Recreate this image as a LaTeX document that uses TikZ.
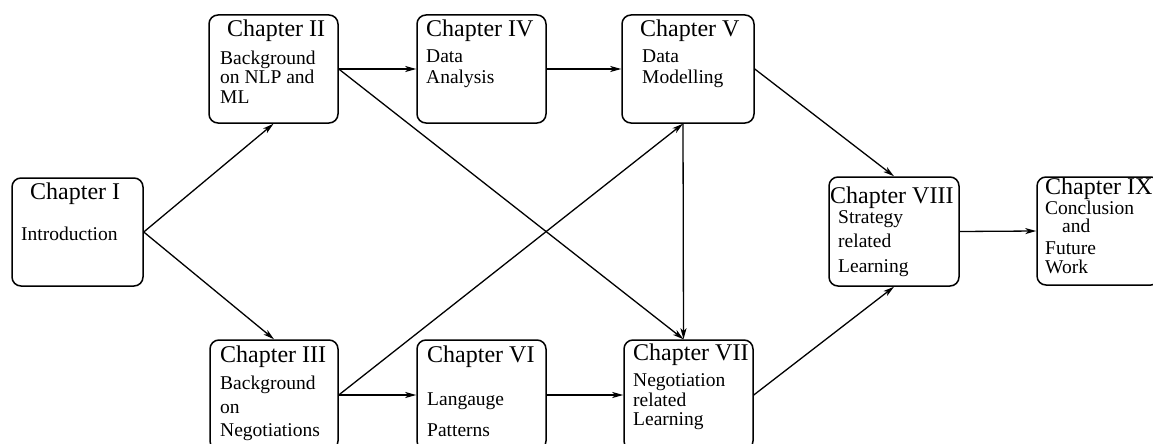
\documentclass[tikz,border=0pt]{standalone}
\usepackage{fontspec}
\setmainfont{Liberation Serif}
\usetikzlibrary{arrows.meta}
\begin{document}
\begin{tikzpicture}[x=1pt,y=-1pt,
  chapbox/.style={draw, line width=1.5pt, rounded corners=9pt, inner sep=0pt},
  head/.style={anchor=base west, inner sep=0pt, font=\fontsize{24}{26}\selectfont},
  body/.style={anchor=base west, inner sep=0pt, font=\fontsize{19.5}{21}\selectfont},
  link/.style={line width=1.3pt, -{Stealth[length=11pt,width=6pt,inset=3pt]}}]
\clip (0,0) rectangle (1153,444);
\fill[white] (0,0) rectangle (1153,444);

% chapter frames
\node[chapbox, minimum width=131pt, minimum height=108pt] (c1) at (77.5,232) {};
\node[chapbox, minimum width=129pt, minimum height=108pt] (c2) at (273.5,69) {};
\node[chapbox, minimum width=129pt, minimum height=108pt] (c4) at (481.5,69) {};
\node[chapbox, minimum width=132pt, minimum height=108pt] (c5) at (688,69) {};
\node[chapbox, minimum width=130pt, minimum height=109pt] (c8) at (894,231.5) {};
\node[chapbox, minimum width=123pt, minimum height=108pt] (c9) at (1098.5,231) {};
\node[chapbox, minimum width=128pt, minimum height=110pt] (c3) at (274,395) {};
\node[chapbox, minimum width=129pt, minimum height=110pt] (c6) at (481.5,395) {};
\node[chapbox, minimum width=129pt, minimum height=110pt] (c7) at (688.5,395) {};

% chapter texts
\node[head] (t1) at (30,199) {Chapter I};
\node[body] (t1a) at (21,240) {Introduction};

\node[head] (t2) at (227,37) {Chapter II};
\node[body] (t2a) at (220,65) {Background};
\node[body] (t2b) at (220,84) {on NLP and};
\node[body] (t2c) at (220,103) {ML};

\node[head] (t4) at (426,37) {Chapter IV};
\node[body] (t4a) at (426,63) {Data};
\node[body] (t4b) at (426,83) {Analysis};

\node[head] (t5) at (640,37) {Chapter V};
\node[body] (t5a) at (642,63) {Data};
\node[body] (t5b) at (642,83) {Modelling};

\node[head] (t8) at (830,203) {Chapter VIII};
\node[body] (t8a) at (838,223) {Strategy};
\node[body] (t8b) at (838,247) {related};
\node[body] (t8c) at (838,272) {Learning};

\node[head] (t9) at (1045,194) {Chapter IX};
\node[body] (t9a) at (1045,214) {Conclusion};
\node[body] (t9b) at (1062,232) {and};
\node[body] (t9c) at (1045,254) {Future};
\node[body] (t9d) at (1045,273) {Work};

\node[head] (t3) at (220,362) {Chapter III};
\node[body] (t3a) at (220,389) {Background};
\node[body] (t3b) at (220,413) {on};
\node[body] (t3c) at (220,436) {Negotiations};

\node[head] (t6) at (427,362) {Chapter VI};
\node[body] (t6a) at (427,405) {Langauge};
\node[body] (t6b) at (427,436) {Patterns};

\node[head] (t7) at (633,360) {Chapter VII};
\node[body] (t7a) at (633,386) {Negotiation};
\node[body] (t7b) at (633,406) {related};
\node[body] (t7c) at (633,425) {Learning};

% dependencies between chapters
\draw[link] (c1.east) -- (c2.south);
\draw[link] (c1.east) -- (c3.north);
\draw[link] (c2.east) -- (c4.west);
\draw[link] (c2.east) -- ([xshift=-5pt]c7.north);
\draw[link] (c4.east) -- (c5.west);
\draw[link] ([xshift=-5pt]c5.south) -- ([xshift=-5pt]c7.north);
\draw[link] (c3.east) -- ([xshift=-5pt]c5.south);
\draw[link] (c3.east) -- (c6.west);
\draw[link] (c6.east) -- (c7.west);
\draw[link] (c5.east) -- (c8.north);
\draw[link] (c7.east) -- (c8.south);
\draw[link] (c8.east) -- (c9.west);
\end{tikzpicture}
\end{document}
